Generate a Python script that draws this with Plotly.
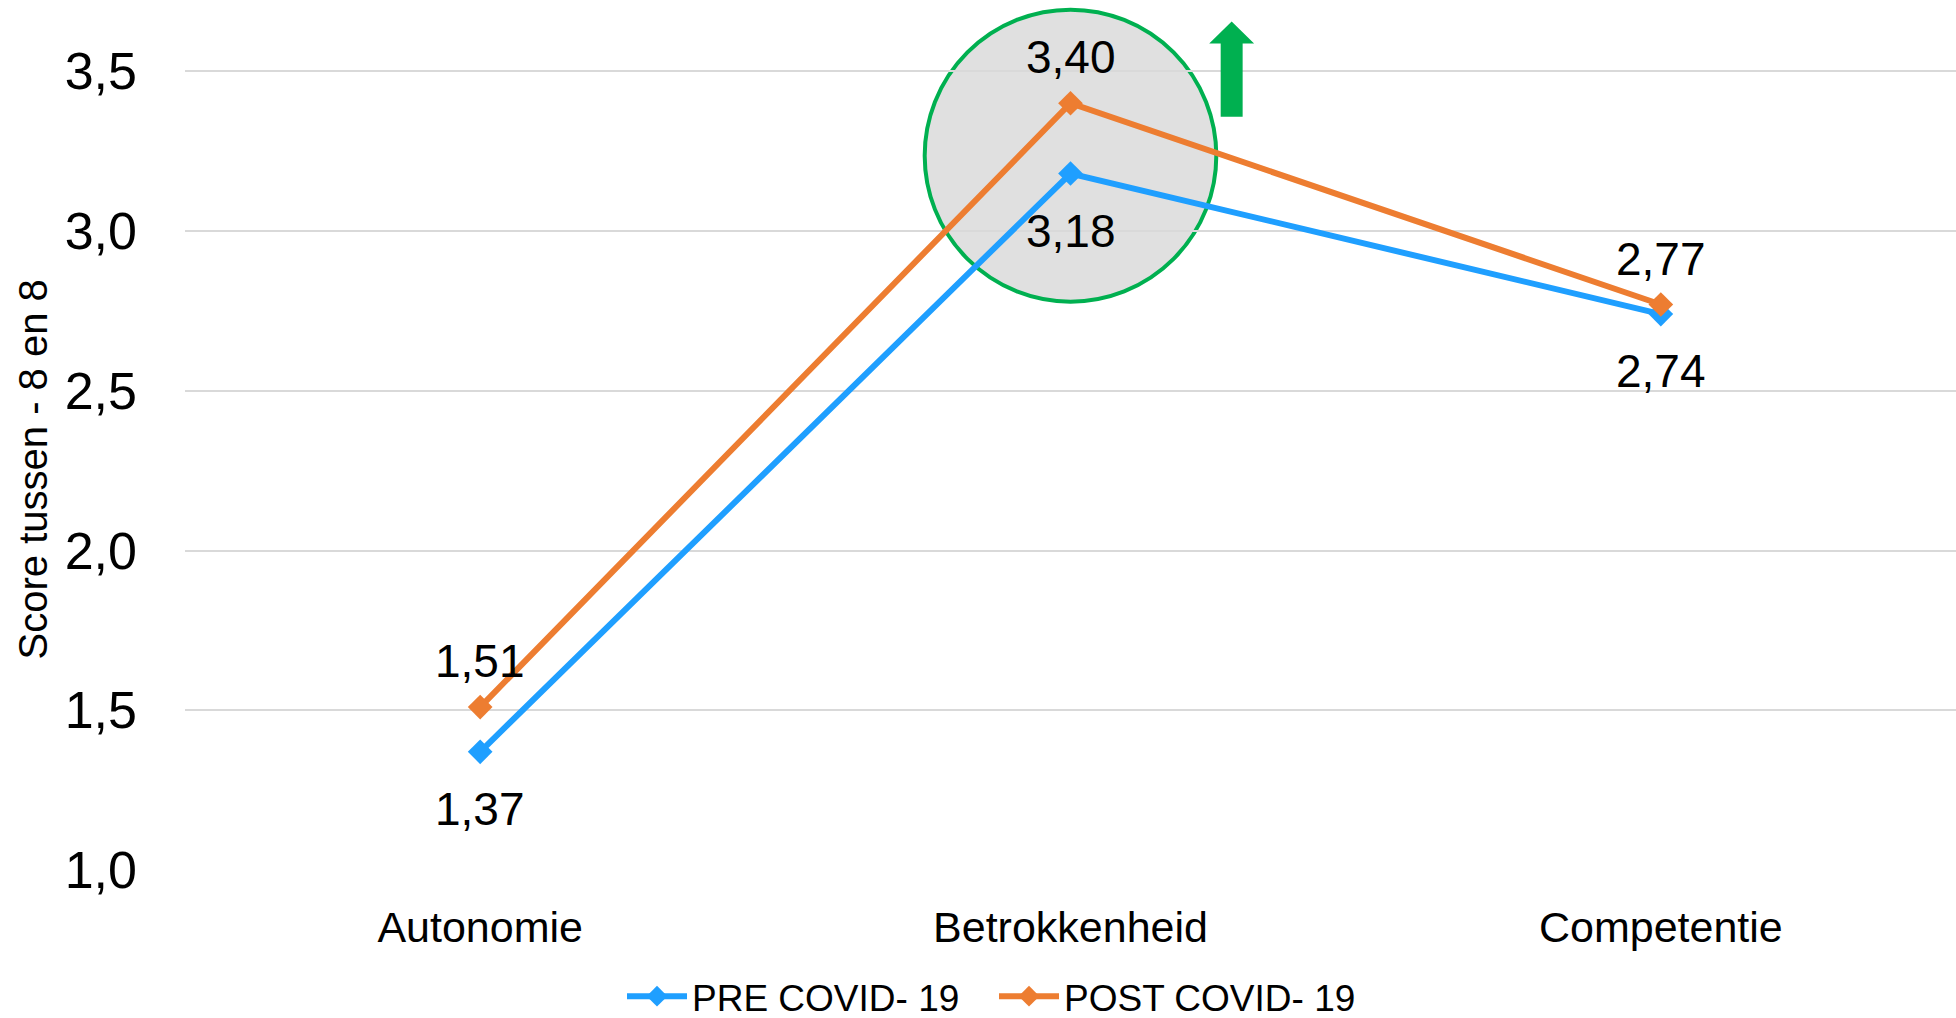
import plotly.graph_objects as go

categories = ["Autonomie", "Betrokkenheid", "Competentie"]
pre_values = [1.37, 3.18, 2.74]
post_values = [1.51, 3.40, 2.77]
series_names = ["PRE COVID- 19", "POST COVID- 19"]
y_ticks = [1.0, 1.5, 2.0, 2.5, 3.0, 3.5]
y_title = "Score tussen - 8 en 8"

BLUE = "#1F9FFF"
ORANGE = "#ED7D31"
GREEN = "#00B050"
FONT = "Liberation Sans, Arial, sans-serif"

fig = go.Figure()
for name, vals, col in [(series_names[0], pre_values, BLUE), (series_names[1], post_values, ORANGE)]:
    fig.add_trace(go.Scatter(
        x=categories, y=vals, name=name, mode="lines+markers",
        line=dict(color=col, width=6),
        marker=dict(symbol="diamond", size=19, color=col),
        cliponaxis=False,
    ))

# data labels
for vals, shift in [(post_values, 46), (pre_values, -57)]:
    for c, v in zip(categories, vals):
        fig.add_annotation(x=c, y=v, text=f"{v:.2f}".replace(".", ","), showarrow=False,
                           yshift=shift, xanchor="center", yanchor="middle",
                           font=dict(family=FONT, size=46, color="black"))

# y axis title
fig.add_annotation(xref="paper", yref="paper", x=-0.0858, y=0.461, text=y_title,
                   textangle=-90, showarrow=False, xanchor="center", yanchor="middle",
                   font=dict(family=FONT, size=40, color="black"))

# highlight circle around Betrokkenheid
fig.add_shape(type="circle", xref="x", yref="y",
              x0=1 - 0.247, x1=1 + 0.247, y0=3.236 - 0.457, y1=3.236 + 0.457,
              fillcolor="#E0E0E0", line=dict(color=GREEN, width=4), layer="below")

# green up arrow
ax, hw, sw = 1.273, 0.038, 0.0186
tip, hb, sb = 3.656, 3.587, 3.358
path = (f"M {ax} {tip} L {ax + hw} {hb} L {ax + sw} {hb} L {ax + sw} {sb} "
        f"L {ax - sw} {sb} L {ax - sw} {hb} L {ax - hw} {hb} Z")
fig.add_shape(type="path", xref="x", yref="y", path=path,
              fillcolor=GREEN, line=dict(width=0), layer="above")

fig.update_layout(
    width=1956, height=1018,
    margin=dict(l=185, r=0, t=1, b=148),
    paper_bgcolor="white", plot_bgcolor="white",
    separators=",.",
    font=dict(family=FONT, color="black"),
    showlegend=True,
    legend=dict(orientation="h", xref="container", yref="container",
                x=0.318, xanchor="left", y=0.021, yanchor="middle",
                font=dict(family=FONT, size=37, color="black"),
                itemwidth=60, tracegroupgap=0,
                entrywidth=297, entrywidthmode="pixels"),
    xaxis=dict(range=[-0.5, 2.5], showgrid=False, showline=False, zeroline=False,
               ticks="", tickfont=dict(family=FONT, size=43, color="black"),
               ticklabelstandoff=28),
    yaxis=dict(range=[1.0, 3.72], tickvals=y_ticks, tickformat=".1f",
               showgrid=True, gridcolor="#D9D9D9", gridwidth=2,
               zeroline=False, showline=False, ticks="",
               tickfont=dict(family=FONT, size=52, color="black"),
               ticklabelstandoff=47),
)

fig.write_html("out.html", config={"displayModeBar": False},
               post_script="document.body.style.margin='0px';")
